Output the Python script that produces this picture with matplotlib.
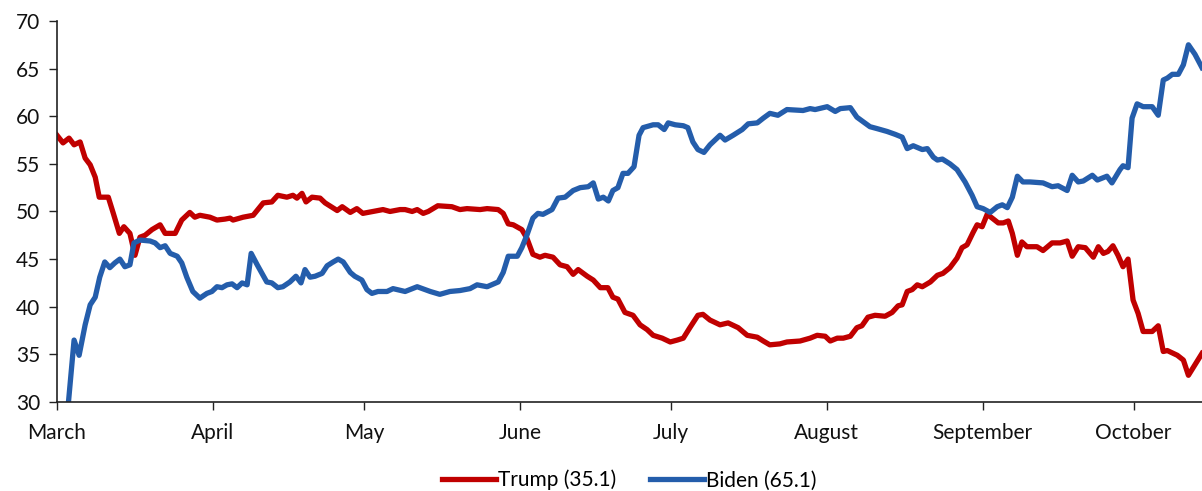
import matplotlib
matplotlib.use("Agg")
import matplotlib.pyplot as plt

plt.rcParams["font.family"] = ["Lato", "DejaVu Sans"]

# days since March 1
trump_days = [0, 1.2, 2.4, 3.4, 4.6, 5.6, 6.6, 7.6, 8.4, 10.2, 11.2, 12.4, 13.3, 14.5,
              15.5, 16.5, 17.5, 18.9, 20.5, 21.5, 23.5, 24.8, 26.4, 27.4, 28.4, 30.4,
              31.8, 33.4, 34.4, 35.0, 37.0, 39.0, 41.0, 42.7, 43.9, 45.7, 46.9, 47.7,
              48.7, 49.5, 50.7, 52.3, 53.3, 55.7, 56.7, 58.3, 59.6, 60.8, 62.8, 64.8,
              66.2, 68.2, 69.2, 70.6, 71.6, 72.8, 73.8, 75.7, 78.5, 80.1, 81.5, 84.1,
              85.5, 87.7, 88.7, 89.7, 90.7, 92.4, 93.4, 94.6, 96.0, 97.0, 98.6, 100.0,
              101.4, 102.6, 103.6, 105.4, 106.6, 108.0, 109.5, 110.5, 111.5, 112.9,
              114.5, 115.9, 117.3, 118.5, 120.3, 121.9, 123.3, 124.5, 125.8, 127.4,
              128.4, 129.8, 131.8, 133.4, 135.4, 137.2, 139.2, 140.4, 141.7, 143.7,
              145.1, 147.7, 149.7, 151.1, 152.7, 153.7, 155.1, 156.3, 157.7, 159.0,
              160.0, 161.2, 162.6, 164.6, 166.0, 167.2, 168.0, 169.0, 170.0, 171.0,
              172.0, 173.6, 175.0, 176.1, 177.5, 178.9, 179.9, 180.9, 182.1, 182.9,
              183.9, 184.9, 185.9, 187.1, 188.1, 189.1, 189.9, 190.9, 191.8, 192.8,
              194.8, 196.0, 197.8, 199.4, 200.8, 201.8, 203.0, 204.4, 206.0, 207.0,
              208.0, 208.9, 209.9, 210.9, 211.9, 212.9, 213.9, 214.9, 215.9, 217.7,
              218.9, 219.9, 220.7, 222.7, 223.9, 224.9, 226.2, 227.6]
trump_vals = [58.0, 57.2, 57.7, 57.0, 57.3, 55.6, 54.9, 53.6, 51.5, 51.5, 49.8, 47.7, 48.4, 47.7,
              45.4, 47.3, 47.5, 48.1, 48.6, 47.7, 47.7, 49.1, 49.9, 49.4, 49.6, 49.4,
              49.1, 49.2, 49.3, 49.1, 49.4, 49.6, 50.9, 51.0, 51.7, 51.5, 51.7, 51.4,
              51.9, 51.0, 51.5, 51.4, 50.9, 50.1, 50.5, 49.9, 50.3, 49.8, 50.0, 50.2,
              50.0, 50.2, 50.2, 50.0, 50.2, 49.8, 50.0, 50.6, 50.5, 50.2, 50.3, 50.2,
              50.3, 50.2, 49.8, 48.7, 48.6, 48.1, 47.2, 45.5, 45.2, 45.4, 45.2, 44.4,
              44.2, 43.4, 43.9, 43.2, 42.8, 42.0, 42.0, 41.0, 40.8, 39.4,
              39.1, 38.1, 37.6, 37.0, 36.7, 36.3, 36.5, 36.7, 37.8, 39.1,
              39.2, 38.6, 38.1, 38.3, 37.8, 37.0, 36.8, 36.4, 36.0, 36.1,
              36.3, 36.4, 36.7, 37.0, 36.9, 36.4, 36.7, 36.7, 36.9, 37.8,
              38.0, 38.9, 39.1, 39.0, 39.4, 40.1, 40.2, 41.6, 41.8, 42.3,
              42.1, 42.6, 43.3, 43.5, 44.1, 45.1, 46.2, 46.5, 47.8, 48.6,
              48.4, 49.7, 49.3, 48.8, 48.8, 49.0, 47.7, 45.4, 46.8, 46.3,
              46.3, 45.9, 46.7, 46.7, 46.9, 45.3, 46.3, 46.2, 45.2, 46.3,
              45.6, 45.8, 46.4, 45.4, 44.2, 45.0, 40.7, 39.3, 37.4, 37.4,
              38.0, 35.3, 35.4, 34.9, 34.4, 32.8, 33.9, 35.1]

biden_days = [1.6, 2.2, 3.4, 4.4, 5.6, 6.6, 7.6, 8.5, 9.5, 10.5, 11.5, 12.5, 13.5, 14.5,
              15.3, 16.5, 18.5, 19.5, 20.5, 21.5, 22.5, 23.9, 24.8, 25.8, 27.0, 28.4,
              29.8, 30.8, 31.8, 32.8, 33.8, 34.8, 35.8, 36.8, 37.8, 38.6, 39.8, 41.7,
              42.7, 43.9, 44.9, 46.3, 47.5, 48.5, 49.3, 50.3, 51.3, 52.7, 53.7, 54.9,
              55.9, 56.9, 58.3, 59.2, 60.6, 61.6, 62.6, 63.8, 65.6, 66.8, 69.2, 71.6,
              74.2, 76.1, 78.1, 80.1, 82.1, 83.5, 85.5, 87.7, 88.7, 89.7, 91.5, 92.4,
              93.4, 94.6, 95.6, 96.6, 98.4, 99.6, 101.0, 102.6, 104.0, 105.6, 106.6,
              107.6, 108.6, 109.6, 110.5, 111.5, 112.5, 113.5, 114.7, 115.7, 116.5,
              118.5, 119.5, 120.7, 121.5, 122.9, 124.5, 125.4, 126.4, 127.4, 128.6,
              129.8, 131.8, 132.8, 134.4, 136.2, 137.4, 139.2, 140.4, 141.7, 143.3,
              145.1, 148.3, 149.7, 150.7, 153.1, 154.7, 155.7, 157.7, 159.0, 161.6,
              163.0, 165.0, 166.6, 168.0, 169.0, 170.2, 172.0, 173.0, 174.2, 175.0,
              176.0, 177.5, 178.9, 180.5, 181.9, 182.9, 184.1, 185.5, 186.9, 187.9,
              188.9, 189.9, 190.9, 192.0, 193.4, 196.0, 197.8, 199.0, 200.8, 201.8,
              203.0, 204.0, 205.8, 206.8, 208.7, 209.7, 211.3, 211.9, 212.9, 213.7,
              214.7, 215.9, 217.7, 218.9, 219.9, 220.7, 221.7, 222.9, 223.9, 224.9,
              226.2, 227.6]
biden_vals = [27.0, 29.5, 36.5, 34.9, 38.1, 40.2, 41.0, 43.1, 44.7, 44.1, 44.6, 45.0, 44.2, 44.4,
              46.7, 47.0, 46.9, 46.7, 46.2, 46.4, 45.6, 45.3, 44.6, 43.1, 41.6, 40.9,
              41.4, 41.6, 42.1, 42.0, 42.3, 42.4, 42.0, 42.5, 42.3, 45.6, 44.4, 42.6,
              42.5, 42.0, 42.1, 42.6, 43.2, 42.5, 43.9, 43.1, 43.2, 43.5, 44.3, 44.7,
              45.0, 44.7, 43.6, 43.2, 42.8, 41.8, 41.4, 41.6, 41.6, 41.9, 41.6, 42.1,
              41.6, 41.3, 41.6, 41.7, 41.9, 42.3, 42.1, 42.6, 43.6, 45.3, 45.3, 46.2,
              47.5, 49.3, 49.8, 49.7, 50.2, 51.4, 51.5, 52.2, 52.5, 52.6, 53.0,
              51.3, 51.5, 51.1, 52.2, 52.5, 54.0, 54.0, 54.7, 58.0, 58.8,
              59.1, 59.1, 58.6, 59.3, 59.1, 59.0, 58.8, 57.3, 56.5, 56.2,
              57.0, 58.0, 57.5, 58.0, 58.6, 59.2, 59.3, 59.8, 60.3, 60.1,
              60.7, 60.6, 60.8, 60.7, 61.0, 60.5, 60.8, 60.9, 59.9, 58.9,
              58.7, 58.4, 58.1, 57.8, 56.6, 56.9, 56.5, 56.6, 55.7, 55.4,
              55.5, 55.0, 54.4, 53.1, 51.7, 50.5, 50.3, 49.9, 50.5, 50.7,
              50.4, 51.5, 53.7, 53.1, 53.1, 53.0, 52.6, 52.7, 52.2, 53.8,
              53.1, 53.2, 53.8, 53.3, 53.7, 53.0, 54.4, 54.8, 54.6, 59.8,
              61.3, 61.0, 61.0, 60.1, 63.8, 64.0, 64.4, 64.4, 65.4, 67.5,
              66.5, 65.1]

month_days = [0, 31, 61, 92, 122, 153, 184, 214]
month_labels = ["March", "April", "May", "June", "July", "August", "September", "October"]
y_ticks = [30, 35, 40, 45, 50, 55, 60, 65, 70]

red = "#C00000"
blue = "#245DAB"

fig = plt.figure(figsize=(12.02, 4.91), dpi=100)
ax = fig.add_axes([0.0474, 0.1813, 0.9526, 0.776])

ax.plot(trump_days, trump_vals, color=red, lw=3.8, label="Trump (35.1)",
        solid_joinstyle="round")
ax.plot(biden_days, biden_vals, color=blue, lw=3.8, label="Biden (65.1)",
        solid_joinstyle="round")

ax.set_xlim(0, 227.6)
ax.set_ylim(30, 70)
ax.set_xticks(month_days)
ax.set_xticklabels(month_labels)
ax.set_yticks(y_ticks)
ax.tick_params(axis="both", labelsize=15, direction="out", length=6, width=1,
               color="#222222", labelcolor="#111111")
ax.tick_params(axis="x", pad=9)
ax.tick_params(axis="y", pad=6)

for s in ["top", "right"]:
    ax.spines[s].set_visible(False)
for s in ["left", "bottom"]:
    ax.spines[s].set_color("#222222")
    ax.spines[s].set_linewidth(1.2)

ax.legend(loc="center", bbox_to_anchor=(0.5, -0.205), ncol=2, frameon=False,
          fontsize=15, handlelength=2.6, handletextpad=0.1, columnspacing=1.6)

fig.savefig("out.png", dpi=100)
